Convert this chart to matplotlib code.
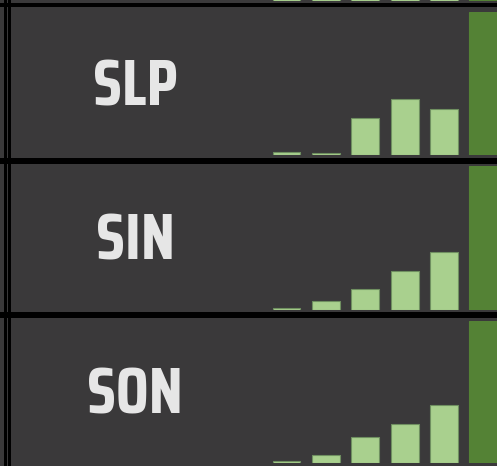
import matplotlib
matplotlib.use("Agg")
import matplotlib.pyplot as plt

# values, tallest (dark) bar = 100
panels = ["SLP", "SIN", "SON"]
slp = [2.1, 1.4, 25.9, 39.2, 32.2, 100]
sin = [1.4, 5.9, 14.0, 27.0, 40.0, 100]
son = [1.6, 5.6, 18.2, 27.8, 40.8, 100]
above = [30, 30, 30, 30, 30, 100]   # panel above, only its bottom edge shows
series = [slp, sin, son]

W, H = 497, 466
BG = "#3a393a"
LIGHT = "#a9d08e"
EDGE = "#6f8f60"
DARK = "#548235"
TXT = "#e6e6e6"
FONT = ["Saira Condensed", "Saira ExtraCondensed", "Liberation Sans Narrow", "DejaVu Sans"]

fig = plt.figure(figsize=(W / 100, H / 100), dpi=100)
fig.patch.set_facecolor(BG)

# frame lines of the dashboard
bg = fig.add_axes([0, 0, 1, 1])
bg.set_xlim(0, W)
bg.set_ylim(H, 0)
bg.axis("off")
for y0, y1 in [(3, 7), (157.5, 163.5), (312, 318)]:
    bg.axhspan(y0, y1, color="black", lw=0)
for x0, x1 in [(4.3, 7), (8, 10.7)]:
    bg.axvspan(x0, x1, color="black", lw=0)

pitch = 39.375
x_first = 286.5


def panel(top, base, vals):
    ax = fig.add_axes([0, 1 - base / H, 1, (base - top) / H])
    ax.set_facecolor("none")
    ax.set_xlim(-x_first / pitch, (W - x_first) / pitch)
    ax.set_ylim(0, 100)
    ax.axis("off")
    xs = list(range(len(vals)))
    ax.bar(xs[:-1], vals[:-1], width=0.71, color=LIGHT, edgecolor=EDGE, linewidth=0.8)
    ax.bar(xs[-1:], vals[-1:], width=0.71, color=DARK, edgecolor=DARK, linewidth=0.8)
    return ax


panel(-142, 1.2, above)
tops = [(12.3, 155.3), (166, 309.6), (321, 463.3)]
label_pos = [(135.5, 87.3), (136, 241), (135, 395.5)]
for name, vals, (t, b), (lx, ly) in zip(panels, series, tops, label_pos):
    panel(t, b, vals)
    fig.text(lx / W, 1 - ly / H, name, fontsize=47, fontweight="bold", family=FONT,
             color=TXT, ha="center", va="center")

fig.savefig("out.png", dpi=100, facecolor=BG)
